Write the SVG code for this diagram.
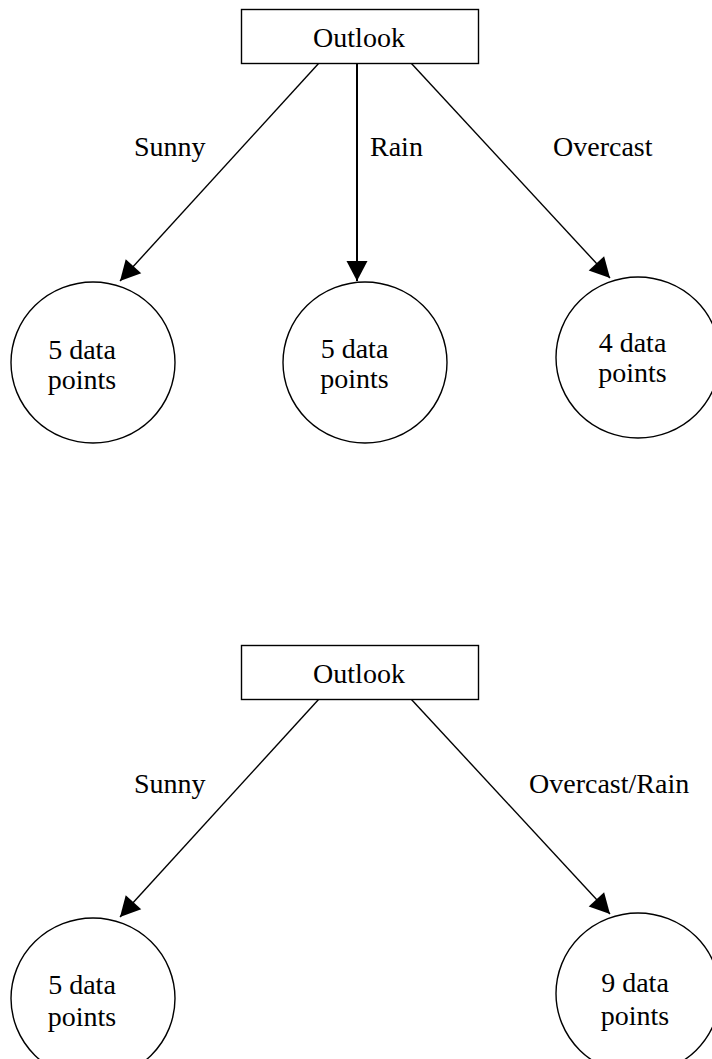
<svg xmlns="http://www.w3.org/2000/svg" width="712" height="1059" viewBox="0 0 712 1059">
  <style>
    .box { fill: #fff; stroke: #000; stroke-width: 1.4; }
    .leaf { fill: #fff; stroke: #000; stroke-width: 1.4; }
    .edge { fill: none; stroke: #000; stroke-width: 1.4; marker-end: url(#arrow); }
    text { font-family: "Liberation Serif", "Times New Roman", serif; font-size: 28px; fill: #000; }
    .mid { text-anchor: middle; }
  </style>
  <defs>
    <marker id="arrow" markerUnits="userSpaceOnUse" markerWidth="22" markerHeight="22" refX="20" refY="10.5" orient="auto" overflow="visible">
      <path d="M0,0 L20,10.5 L0,21 Z" fill="#000"/>
    </marker>
  </defs>
  <rect width="712" height="1059" fill="#fff"/>

  <!-- three-way split -->
  <g id="connectors-top">
    <line class="edge" x1="319" y1="63" x2="120" y2="281"/>
    <line class="edge" x1="357" y1="63" x2="357" y2="281" style="stroke-width:2"/>
    <line class="edge" x1="411" y1="63" x2="610" y2="278"/>
  </g>
  <g id="edge-labels-top">
    <text x="134" y="156">Sunny</text>
    <text x="370" y="156">Rain</text>
    <text x="553" y="156">Overcast</text>
  </g>
  <g id="root-top">
    <rect class="box" x="241.5" y="9.5" width="237" height="54"/>
    <text class="mid" x="359" y="47">Outlook</text>
  </g>
  <g id="sunny-top">
    <ellipse class="leaf" cx="93" cy="362.5" rx="82" ry="80.5"/>
    <text class="mid" x="82" y="359">5 data</text>
    <text class="mid" x="82" y="389">points</text>
  </g>
  <g id="rain-top">
    <ellipse class="leaf" cx="365" cy="362.5" rx="82" ry="80.5"/>
    <text class="mid" x="354.5" y="358">5 data</text>
    <text class="mid" x="354.5" y="388">points</text>
  </g>
  <g id="overcast-top">
    <ellipse class="leaf" cx="638" cy="357.5" rx="82" ry="80.5"/>
    <text class="mid" x="632.5" y="352">4 data</text>
    <text class="mid" x="632.5" y="382">points</text>
  </g>

  <!-- two-way split -->
  <g id="connectors-bottom">
    <line class="edge" x1="319" y1="699" x2="120" y2="917"/>
    <line class="edge" x1="411" y1="699" x2="610" y2="914"/>
  </g>
  <g id="edge-labels-bottom">
    <text x="134" y="793">Sunny</text>
    <text x="529" y="793">Overcast/Rain</text>
  </g>
  <g id="root-bottom">
    <rect class="box" x="241.5" y="645.5" width="237" height="54"/>
    <text class="mid" x="359" y="683">Outlook</text>
  </g>
  <g id="sunny-bottom">
    <ellipse class="leaf" cx="93" cy="998.5" rx="82" ry="80.5"/>
    <text class="mid" x="82" y="994">5 data</text>
    <text class="mid" x="82" y="1026">points</text>
  </g>
  <g id="overcast-rain-bottom">
    <ellipse class="leaf" cx="638" cy="993.5" rx="82" ry="80.5"/>
    <text class="mid" x="635" y="992">9 data</text>
    <text class="mid" x="635" y="1025">points</text>
  </g>
</svg>
